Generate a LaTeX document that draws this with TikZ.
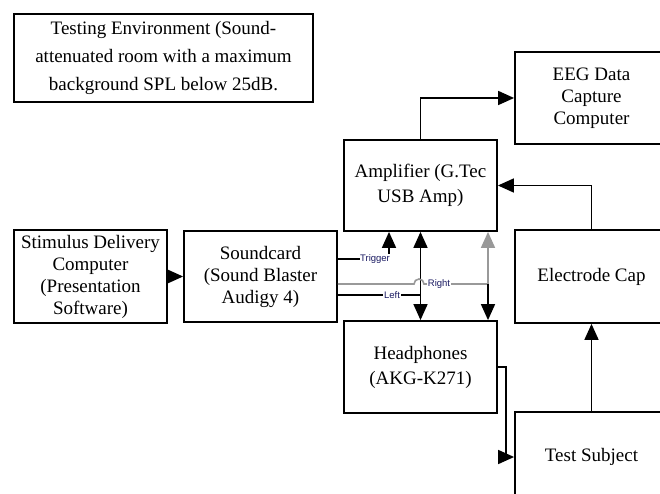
\documentclass[tikz,border=0pt]{standalone}
\usepackage{fontspec}
\setmainfont{Liberation Serif}
\newfontfamily\lblfont{Liberation Sans}
\usetikzlibrary{arrows.meta}
\tikzset{
  box/.style={draw=black, line width=1.8pt, fill=white, align=center, inner sep=0pt,
    font=\fontsize{19}{22}\selectfont},
  conn/.style={line width=1.6pt, black},
  arr/.style={conn, -{Triangle[length=16pt,width=14pt]}},
  darr/.style={conn, {Triangle[length=16pt,width=14pt]}-{Triangle[length=16pt,width=14pt]}},
  lbl/.style={fill=white, inner sep=0.6pt, font=\lblfont\fontsize{9.5}{10}\selectfont, text=black!65!blue!80!gray}
}
\begin{document}
\begin{tikzpicture}[x=1pt,y=-1pt]
\path[use as bounding box, clip] (0,0) rectangle (660,494);
\fill[white] (0,0) rectangle (660,494);

\node[box, minimum width=299pt, minimum height=88pt, font=\fontsize{19}{28}\selectfont] (env) at (163.5,58)
  {Testing Environment (Sound-\\attenuated room with a maximum\\background SPL below 25dB.};
\node[box, minimum width=153pt, minimum height=92pt] (eeg) at (591.5,98) {EEG Data\\Capture\\Computer};
\node[box, minimum width=153pt, minimum height=91pt, font=\fontsize{19}{25}\selectfont] (amp) at (420.5,185.5) {Amplifier (G.Tec\\USB Amp)};
\node[box, minimum width=153pt, minimum height=93pt] (stim) at (90.5,276.5) {Stimulus Delivery\\Computer\\(Presentation\\Software)};
\node[box, minimum width=153pt, minimum height=91pt] (sound) at (260.5,276.5) {Soundcard\\(Sound Blaster\\Audigy 4)};
\node[box, minimum width=153pt, minimum height=93pt] (elec) at (591.5,276.5) {Electrode Cap};
\node[box, minimum width=153pt, minimum height=92pt, font=\fontsize{19}{25}\selectfont] (hp) at (420.5,367) {Headphones\\(AKG-K271)};
\node[box, minimum width=153pt, minimum height=90pt] (ts) at (591.5,457) {Test Subject};

\coordinate (trig) at (389,259);
\coordinate (right) at (488,284);
\coordinate (left) at (420.5,295);

% stimulus -> soundcard
\draw[arr] (stim.east) -- (sound.west);
% amp -> eeg
\draw[arr] (amp.north) |- (eeg.west);
% electrode -> amp
\draw[arr] (elec.north) |- (amp.east);
% test subject -> electrode
\draw[arr] (ts.north) -- (elec.south);
% headphones -> test subject
\draw[arr] (hp.east) -- ++(8,0) |- (ts.west);
% amp <-> headphones
\draw[darr] (amp.south) -- (hp.north);
% trigger
\draw[arr] (sound.east |- trig) -| (amp.south -| trig);
% right channel (gray) with hop
\draw[conn, black!40] (sound.east |- right) -- (414,284) arc[start angle=180, end angle=360, radius=5] -- (right);
\draw[conn, black!40, -{Triangle[length=16pt,width=14pt]}] (right) -- (amp.south -| right);
\draw[arr] (right) -- (hp.north -| right);
% left channel
\draw[conn] (sound.east |- left) -- (left);

\node[lbl] (tl) at (375,259) {Trigger};
\node[lbl] (rl) at (439,284) {Right};
\node[lbl] (ll) at (392,295) {Left};
\end{tikzpicture}
\end{document}
